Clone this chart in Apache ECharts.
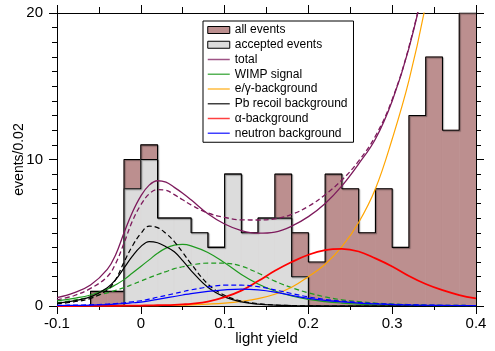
<!DOCTYPE html>
<html><head><meta charset="utf-8">
<script src="https://cdn.jsdelivr.net/npm/echarts@6/dist/echarts.min.js"></script>
<style>html,body{margin:0;padding:0;background:#fff}#c{width:495px;height:351px}</style>
</head><body><div id="c"></div>
<script>
// histogram bins (left edges), width 0.02
const binLeft = [-0.1,-0.08,-0.06,-0.04,-0.02,0,0.02,0.04,0.06,0.08,0.1,0.12,0.14,0.16,0.18,0.2,0.22,0.24,0.26,0.28,0.3,0.32,0.34,0.36,0.38];
const binWidth = 0.02;
const allEvents = [0,0,1,1,10,11,6,6,5,4,9,5,6,9,5,3,9,8,5,8,4,13,17,12,20];
const acceptedEvents = [0,0,0,0,8,10,6,6,5,4,9,5,6,6,2,0,0,0,0,0,0,0,0,0,0];

// fit curves sampled at curveX
const curveX = [-0.1,-0.08,-0.06,-0.04,-0.03,-0.02,-0.01,0,0.01,0.02,0.03,0.04,0.05,0.06,0.08,0.1,0.12,0.14,0.16,0.18,0.2,0.22,0.24,0.26,0.28,0.3,0.32,0.34,0.36,0.38,0.4];
const totalSolid = [0.57,0.9,1.43,2.5,3.5,5.0,6.4,7.5,8.25,8.55,8.45,8.1,7.7,7.25,6.3,5.6,5.15,4.97,5.05,5.45,6.1,7.0,8.2,9.7,11.4,14.0,17.6,22.5,29,37,47];
const totalDashed = [0.42,0.7,1.2,2.0,2.9,4.3,5.8,6.9,7.65,7.95,7.9,7.6,7.25,6.9,6.35,6.05,5.88,5.87,5.95,6.25,6.8,7.6,8.6,9.9,11.6,14.1,17.7,22.6,29,37,47];
const wimpSolid = [0.35,0.52,0.75,1.15,1.45,1.8,2.25,2.7,3.15,3.6,3.95,4.15,4.2,4.1,3.65,2.95,2.15,1.5,1.02,0.68,0.45,0.3,0.2,0.13,0.08,0.05,0.03,0.02,0.01,0.01,0.0];
const wimpDashed = [0.22,0.4,0.62,0.9,1.07,1.25,1.47,1.7,1.93,2.15,2.35,2.55,2.68,2.8,2.93,2.92,2.72,2.25,1.7,1.25,0.9,0.62,0.42,0.3,0.2,0.14,0.1,0.07,0.05,0.04,0.03];
const egSolid = [0,0,0,0.01,0.01,0.01,0.02,0.02,0.03,0.03,0.04,0.05,0.06,0.08,0.13,0.2,0.32,0.5,0.8,1.28,2.0,2.85,4.05,5.7,8.0,11.4,15.4,20.6,27.5,36,47];
const pbSolid = [0.2,0.35,0.62,1.25,1.8,2.6,3.4,4.05,4.4,4.32,4.05,3.7,3.1,2.42,1.28,0.62,0.28,0.13,0.06,0.03,0.01,0,0,0,0,0,0,0,0,0,0];
const pbDashed = [0.15,0.28,0.52,1.1,1.8,3.0,4.1,4.95,5.45,5.35,4.95,4.4,3.65,2.88,1.5,0.73,0.34,0.16,0.07,0.03,0.01,0,0,0,0,0,0,0,0,0,0];
const alphaSolid = [0,0,0.01,0.01,0.01,0.02,0.02,0.03,0.04,0.05,0.06,0.08,0.11,0.15,0.3,0.6,1.05,1.7,2.4,3.0,3.5,3.82,3.9,3.72,3.25,2.7,2.05,1.5,1.08,0.75,0.52];
const neutronSolid = [0.03,0.04,0.06,0.1,0.13,0.17,0.22,0.27,0.35,0.45,0.55,0.65,0.75,0.85,1.0,1.1,1.15,1.1,0.95,0.72,0.52,0.38,0.28,0.2,0.14,0.1,0.07,0.05,0.04,0.03,0.02];
const neutronDashed = [0.04,0.06,0.08,0.13,0.17,0.22,0.29,0.36,0.47,0.6,0.72,0.85,0.98,1.1,1.3,1.42,1.42,1.32,1.1,0.85,0.62,0.45,0.33,0.24,0.17,0.12,0.09,0.06,0.05,0.04,0.03];

const xTicks = {min:-0.1, max:0.4, interval:0.1};
const yTicks = {min:0, max:20, interval:10};

const FONT = 'Liberation Sans, Arial, sans-serif';
const C = {purple:'#7d1a5c', green:'#1f9a1f', orange:'#ffa500', black:'#000', red:'#ff0000', blue:'#0000ff', brown:'#bc8f8f', gray:'#dcdcdc'};

function barData(counts){ return binLeft.map((x,i)=>[x, x+binWidth, counts[i]]); }
function stepData(counts){ const d = binLeft.map((x,i)=>[x, counts[i]]); d.push([binLeft[binLeft.length-1]+binWidth, counts[counts.length-1]]); return d; }
function curve(arr){ return curveX.map((x,i)=>[x, arr[i]]); }

function renderBar(params, api){
  const p0 = api.coord([api.value(0), api.value(2)]);
  const p1 = api.coord([api.value(1), 0]);
  const col = api.visual('color');
  return {type:'rect', shape:{x:p0[0], y:p0[1], width:p1[0]-p0[0], height:p1[1]-p0[1]}, style:{fill:col, stroke:col, lineWidth:0.8}};
}

const outlineStyle = {color:'#000', width:1.1, shadowColor:'rgba(0,0,0,0.35)', shadowOffsetX:1, shadowOffsetY:1, shadowBlur:1};

function lineSeries(name, arr, color, dashed, width){
  return {name:name, type:'line', data:curve(arr), xAxisIndex:0, yAxisIndex:0, symbol:'none', smooth:0.4,
    clip:true, z:5, silent:true,
    lineStyle:{color:color, width:width||1.2, type: dashed ? [5,3] : 'solid'}, itemStyle:{color:color}};
}

const axisCommon = {
  axisLine:{onZero:false, lineStyle:{color:'#000', width:1}},
  splitLine:{show:false},
};

const legendLine = {type:'solid', opacity:0.75, width:1.5};
const legendNoSym = {color:'rgba(0,0,0,0)', borderWidth:0, opacity:0};

const chart = echarts.init(document.getElementById('c'), null, {renderer:'canvas'});
chart.setOption({
  animation:false,
  backgroundColor:'#fff',
  textStyle:{fontFamily:FONT},
  grid:{left:57, right:19, top:13, bottom:45, containLabel:false, outerBoundsMode:'none'},
  xAxis:[
    Object.assign({type:'value', position:'bottom', min:xTicks.min, max:xTicks.max, interval:xTicks.interval,
      name:'light yield', nameLocation:'middle', nameGap:25, nameMoveOverlap:false, nameTextStyle:{fontSize:15, color:'#000', fontFamily:FONT},
      axisTick:{length:8, lineStyle:{color:'#000'}},
      minorTick:{show:true, splitNumber:2, length:4, lineStyle:{color:'#000'}},
      axisLabel:{fontSize:15, color:'#000', margin:10, fontFamily:FONT}}, axisCommon),
    Object.assign({type:'value', position:'top', min:xTicks.min, max:xTicks.max, interval:xTicks.interval,
      axisTick:{length:8, lineStyle:{color:'#000'}},
      minorTick:{show:true, splitNumber:2, length:6, lineStyle:{color:'#000'}},
      axisLabel:{show:false}}, axisCommon)
  ],
  yAxis:[
    Object.assign({type:'value', position:'left', min:yTicks.min, max:yTicks.max, interval:yTicks.interval,
      name:'events/0.02', nameLocation:'middle', nameGap:31, nameMoveOverlap:false, nameRotate:90, nameTextStyle:{fontSize:14, color:'#000', fontFamily:FONT},
      axisTick:{length:8, lineStyle:{color:'#000'}},
      minorTick:{show:true, splitNumber:10, length:5, lineStyle:{color:'#000'}},
      axisLabel:{fontSize:15, color:'#000', margin:14, fontFamily:FONT}}, axisCommon),
    Object.assign({type:'value', position:'right', min:yTicks.min, max:yTicks.max, interval:yTicks.interval,
      axisTick:{length:8, lineStyle:{color:'#000'}},
      minorTick:{show:true, splitNumber:10, length:5, lineStyle:{color:'#000'}},
      axisLabel:{show:false}}, axisCommon)
  ],
  legend:{
    orient:'vertical', left:203, top:21, backgroundColor:'#fff', borderColor:'#000', borderWidth:1, borderRadius:0,
    padding:[2,6,2,4], itemWidth:22, itemHeight:7, itemGap:0.75, selectedMode:false, z:10,
    textStyle:{fontSize:12, color:'#000', fontFamily:FONT, lineHeight:14},
    data:[
      {name:'all events', icon:'rect', itemStyle:{color:C.brown, borderColor:'#000', borderWidth:1}},
      {name:'accepted events', icon:'rect', itemStyle:{color:C.gray, borderColor:'#000', borderWidth:1}},
      {name:'total', lineStyle:legendLine, itemStyle:legendNoSym},
      {name:'WIMP signal', lineStyle:legendLine, itemStyle:legendNoSym},
      {name:'e/\u03b3-background', lineStyle:legendLine, itemStyle:legendNoSym},
      {name:'Pb recoil background', lineStyle:legendLine, itemStyle:legendNoSym},
      {name:'\u03b1-background', lineStyle:legendLine, itemStyle:legendNoSym},
      {name:'neutron background', lineStyle:legendLine, itemStyle:legendNoSym}
    ]
  },
  series:[
    {name:'all events', type:'custom', renderItem:renderBar, data:barData(allEvents), itemStyle:{color:C.brown}, z:1, silent:true, clip:true},
    {type:'line', data:stepData(allEvents), step:'end', symbol:'none', lineStyle:outlineStyle, z:2, silent:true},
    {name:'accepted events', type:'custom', renderItem:renderBar, data:barData(acceptedEvents), itemStyle:{color:C.gray}, z:3, silent:true, clip:true},
    {type:'line', data:stepData(acceptedEvents), step:'end', symbol:'none', lineStyle:outlineStyle, z:4, silent:true},
    lineSeries('total', totalSolid, C.purple, false, 1.3),
    lineSeries('total fit 2', totalDashed, C.purple, true, 1.3),
    lineSeries('WIMP signal', wimpSolid, C.green, false),
    lineSeries('WIMP fit 2', wimpDashed, C.green, true),
    lineSeries('e/\u03b3-background', egSolid, C.orange, false),
    lineSeries('Pb recoil background', pbSolid, C.black, false),
    lineSeries('Pb fit 2', pbDashed, C.black, true),
    lineSeries('\u03b1-background', alphaSolid, C.red, false, 1.8),
    lineSeries('neutron background', neutronSolid, C.blue, false),
    lineSeries('neutron fit 2', neutronDashed, C.blue, true)
  ]
});
</script></body></html>
